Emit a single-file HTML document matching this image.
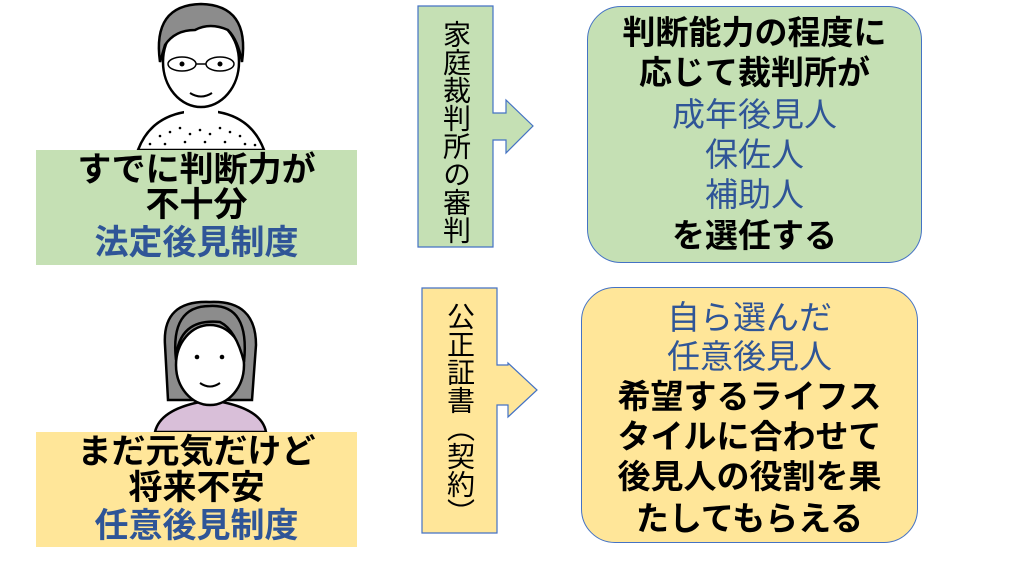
<!DOCTYPE html>
<html><head><meta charset="utf-8"><style>
body{margin:0;width:1024px;height:576px;background:#fff;position:relative;overflow:hidden;font-family:"Liberation Sans","Noto Sans CJK JP",sans-serif;}
.l{position:absolute;left:-20px;width:calc(100% + 40px);text-align:center;font-weight:bold;line-height:1;white-space:nowrap;}
.b{color:#2F5597}
.n{font-weight:normal}
.box{position:absolute;box-sizing:border-box;}
.v{position:absolute;font-size:28px;line-height:1;color:#000;writing-mode:vertical-rl;text-orientation:upright;letter-spacing:0;}
</style></head><body>
<svg width="1024" height="576" style="position:absolute;left:0;top:0">
<!-- top face -->
<g stroke="#000" stroke-width="2.5">
<path d="M138 150 Q150 118 185 112 L218 112 Q252 118 264 150 Z" fill="#fff"/>
<rect x="184" y="92" width="34" height="24" fill="#fff" stroke="none"/>
<ellipse cx="201" cy="62" rx="38" ry="45" fill="#fff"/>
<path d="M160 62 Q152 5 201 4 Q250 5 242 62 Q238 40 228 30 Q210 22 195 30 Q175 30 165 45 Z" fill="#8c8c8c"/>
<ellipse cx="182" cy="64" rx="14" ry="7" fill="none" stroke-width="1.5"/>
<ellipse cx="220" cy="64" rx="14" ry="7" fill="none" stroke-width="1.5"/>
<line x1="196" y1="64" x2="206" y2="64" stroke-width="1.5"/>
<path d="M190 93 Q201 100 212 93" fill="none" stroke-width="2"/>
</g>
<circle cx="182" cy="64" r="2.5"/><circle cx="220" cy="64" r="2.5"/>
<g fill="#000">
<circle cx="160" cy="136" r="1.3"/><circle cx="170" cy="132" r="1.3"/><circle cx="180" cy="128" r="1.3"/><circle cx="190" cy="134" r="1.3"/><circle cx="200" cy="130" r="1.3"/><circle cx="210" cy="134" r="1.3"/><circle cx="220" cy="128" r="1.3"/><circle cx="230" cy="132" r="1.3"/><circle cx="240" cy="136" r="1.3"/><circle cx="150" cy="144" r="1.3"/><circle cx="165" cy="144" r="1.3"/><circle cx="185" cy="142" r="1.3"/><circle cx="205" cy="142" r="1.3"/><circle cx="225" cy="142" r="1.3"/><circle cx="245" cy="144" r="1.3"/><circle cx="255" cy="145" r="1.3"/>
</g>
<!-- bottom face -->
<g stroke="#000" stroke-width="2.5">
<path d="M165 345 Q162 300 210 302 Q256 300 256 345 L252 400 L168 400 Z" fill="#8c8c8c"/>
<path d="M155 432 Q160 410 200 402 L222 402 Q262 410 266 432 Z" fill="#d9bfd9"/>
<ellipse cx="210" cy="365" rx="34" ry="40" fill="#fff"/>
<path d="M176 360 Q178 318 220 322 Q236 330 244 362 Q250 304 210 306 Q170 306 176 360 Z" fill="#8c8c8c"/>
<path d="M200 383 Q210 390 220 383" fill="none" stroke-width="2"/>
</g>
<circle cx="197" cy="357" r="2.3"/><circle cx="222" cy="357" r="2.3"/>
<!-- arrows -->
<path d="M418 6 H493 V113 H506 V100 L533 126 L506 153 V140 H493 V247 H418 Z" fill="#C5E0B4" stroke="#4472C4" stroke-width="1.2"/>
<path d="M422 288 H497 V365 H508 V363 L537 390 L508 417 V405 H497 V533 H422 Z" fill="#FFE699" stroke="#4472C4" stroke-width="1.2"/>
</svg>
<div class="box" style="left:36px;top:150px;width:321px;height:115px;background:#C5E0B4">
<div class="l" style="top:3px;font-size:34px">すでに判断力が</div>
<div class="l" style="top:38px;font-size:34px">不十分</div>
<div class="l b" style="top:76px;font-size:34px">法定後見制度</div>
</div>
<div class="box" style="left:36px;top:432px;width:321px;height:115px;background:#FFE699">
<div class="l" style="top:3px;font-size:34px">まだ元気だけど</div>
<div class="l" style="top:39px;font-size:34px">将来不安</div>
<div class="l b" style="top:77px;font-size:34px">任意後見制度</div>
</div>
<div class="v" style="left:441px;top:20px">家庭裁判所の審判</div>
<div class="v" style="left:445px;top:302px">公正証書（契約）</div>
<div class="box" style="left:587px;top:6px;width:335px;height:257px;background:#C5E0B4;border:1.3px solid #4472C4;border-radius:34px">
<div class="l" style="top:9px;font-size:33px">判断能力の程度に</div>
<div class="l" style="top:49px;font-size:33px">応じて裁判所が</div>
<div class="l b n" style="top:91px;font-size:33px">成年後見人</div>
<div class="l b n" style="top:131px;font-size:33px">保佐人</div>
<div class="l b n" style="top:171px;font-size:33px">補助人</div>
<div class="l" style="top:212px;font-size:33px">を選任する</div>
</div>
<div class="box" style="left:581px;top:287px;width:337px;height:256px;background:#FFE699;border:1.3px solid #4472C4;border-radius:34px">
<div class="l b n" style="top:13px;font-size:33px">自ら選んだ</div>
<div class="l b n" style="top:52px;font-size:33px">任意後見人</div>
<div class="l" style="top:92px;font-size:33px">希望するライフス</div>
<div class="l" style="top:132px;font-size:33px">タイルに合わせて</div>
<div class="l" style="top:172px;font-size:33px">後見人の役割を果</div>
<div class="l" style="top:214px;font-size:33px">たしてもらえる</div>
</div>
</body></html>
